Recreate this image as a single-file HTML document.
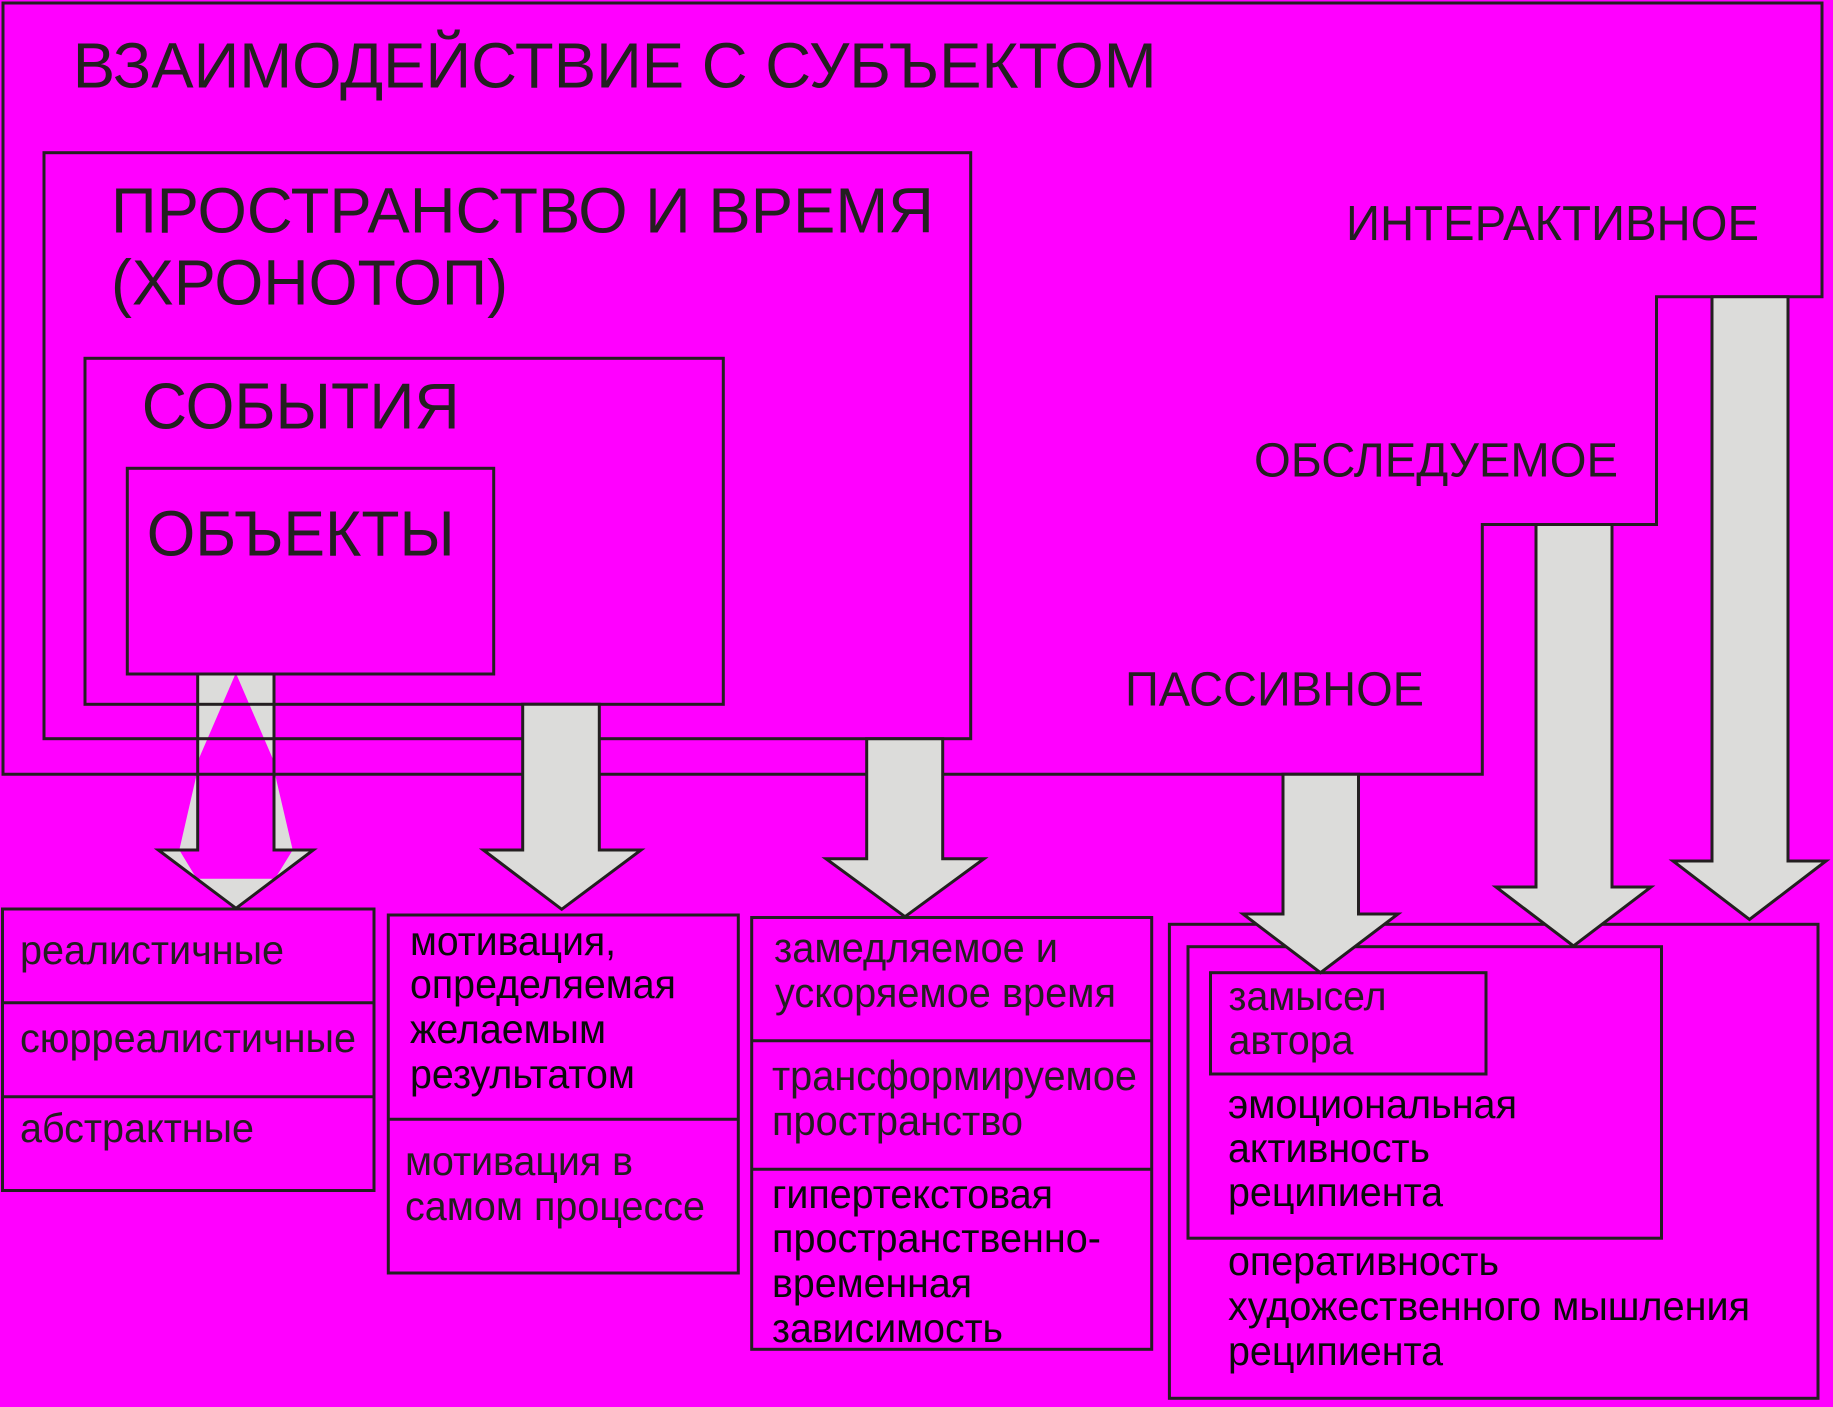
<!DOCTYPE html>
<html lang="ru">
<head>
<meta charset="utf-8">
<style>
  html, body { margin: 0; padding: 0; background: #ff00ff; }
  body { width: 1833px; height: 1407px; overflow: hidden; }
  svg { display: block; }
  text { font-family: "Liberation Sans", "DejaVu Sans", sans-serif; fill: #231f20; }
  .k { fill: #0a0a0a; }
</style>
</head>
<body>
<svg width="1833" height="1407" viewBox="0 0 1833 1407" xmlns="http://www.w3.org/2000/svg">
  <rect x="0" y="0" width="1833" height="1407" fill="#ff00ff"/>

  <!-- Arrow 1 odd gray fill pieces (drawn beneath frame lines) -->
  <g fill="#dcdcda" stroke="none">
    <polygon points="198.3,675 235,675 198.3,760"/>
    <polygon points="236.7,675 273.3,675 273.3,760"/>
    <polygon points="196.7,774.3 196.7,850 179.3,850"/>
    <polygon points="275,774.3 275,850 292.7,850"/>
    <polygon points="158.3,850 179.3,850 196.7,878.7"/>
    <polygon points="292.7,850 313.3,850 275,878.7"/>
    <polygon points="196.7,878.7 275,878.7 236,908.3"/>
  </g>

  <!-- Frames -->
  <g fill="none" stroke="#231f20" stroke-width="3">
    <polygon points="3,3 1822,3 1822,296.7 1656.5,296.7 1656.5,524.5 1482.3,524.5 1482.3,774.3 3,774.3"/>
    <rect x="44" y="152.7" width="926.7" height="586"/>
    <rect x="85" y="358.3" width="638.3" height="346"/>
    <rect x="127.3" y="468.3" width="366.4" height="205.7"/>

    <!-- bottom left box -->
    <rect x="2.5" y="909" width="371.5" height="281.5"/>
    <line x1="2.5" y1="1002.7" x2="374" y2="1002.7"/>
    <line x1="2.5" y1="1096.7" x2="374" y2="1096.7"/>

    <!-- box 2 -->
    <rect x="388.3" y="915" width="350" height="358"/>
    <line x1="388.3" y1="1119.3" x2="738.3" y2="1119.3"/>

    <!-- box 3 -->
    <rect x="751.7" y="917.5" width="400" height="431.8"/>
    <line x1="751.7" y1="1040.7" x2="1151.7" y2="1040.7"/>
    <line x1="751.7" y1="1169.3" x2="1151.7" y2="1169.3"/>

    <!-- right boxes -->
    <rect x="1169.4" y="924.3" width="648.6" height="474"/>
    <rect x="1188" y="946.7" width="473.5" height="291.5"/>
    <rect x="1210.5" y="972.7" width="275.5" height="101.3"/>
  </g>

  <!-- Arrow 1 outlines -->
  <g fill="none" stroke="#231f20" stroke-width="3" stroke-linejoin="miter">
    <polyline points="197.7,674 197.7,850 158.3,850 236,908.3 313.3,850 274,850 274,674"/>
  </g>

  <!-- Solid arrows -->
  <g fill="#dcdcda" stroke="#231f20" stroke-width="3" stroke-linejoin="miter">
    <polygon points="522.7,704.3 522.7,850 483.3,850 561.7,909.3 641,850 599.3,850 599.3,704.3"/>
    <polygon points="866.7,738.7 866.7,858.7 826,858.7 905,916.7 984,858.7 942.7,858.7 942.7,738.7"/>
    <polygon points="1283,774.3 1283,914 1243,914 1320.5,972.7 1398,914 1358.5,914 1358.5,774.3"/>
    <polygon points="1536,524.5 1536,887 1496,887 1573.5,946 1651,887 1612,887 1612,524.5"/>
    <polygon points="1712,296.7 1712,861 1673,861 1749.5,919.5 1826,861 1788,861 1788,296.7"/>
  </g>

  <!-- Upper texts (caps) -->
  <text x="72.7" y="87.7" font-size="64" textLength="1084" lengthAdjust="spacingAndGlyphs">ВЗАИМОДЕЙСТВИЕ С СУБЪЕКТОМ</text>
  <text x="111" y="232.7" font-size="64" textLength="823" lengthAdjust="spacingAndGlyphs">ПРОСТРАНСТВО И ВРЕМЯ</text>
  <text x="111" y="304.3" font-size="64" textLength="397" lengthAdjust="spacingAndGlyphs">(ХРОНОТОП)</text>
  <text x="141.7" y="428.3" font-size="65" textLength="318" lengthAdjust="spacingAndGlyphs">СОБЫТИЯ</text>
  <text x="146.7" y="555.7" font-size="64" textLength="308" lengthAdjust="spacingAndGlyphs">ОБЪЕКТЫ</text>
  <text x="1346" y="240" font-size="49" textLength="413" lengthAdjust="spacingAndGlyphs">ИНТЕРАКТИВНОЕ</text>
  <text x="1254" y="476.7" font-size="48" textLength="364" lengthAdjust="spacingAndGlyphs">ОБСЛЕДУЕМОЕ</text>
  <text x="1125" y="705.7" font-size="48" textLength="299" lengthAdjust="spacingAndGlyphs">ПАССИВНОЕ</text>

  <!-- Box 1 -->
  <text x="20" y="964" font-size="41" textLength="264" lengthAdjust="spacingAndGlyphs">реалистичные</text>
  <text x="20" y="1052" font-size="41" textLength="336" lengthAdjust="spacingAndGlyphs">сюрреалистичные</text>
  <text x="20" y="1142" font-size="41" textLength="234" lengthAdjust="spacingAndGlyphs">абстрактные</text>

  <!-- Box 2 -->
  <text class="k" x="410" y="955" font-size="41" textLength="206" lengthAdjust="spacingAndGlyphs">мотивация,</text>
  <text class="k" x="410" y="998" font-size="41" textLength="266" lengthAdjust="spacingAndGlyphs">определяемая</text>
  <text class="k" x="410" y="1043" font-size="41" textLength="196" lengthAdjust="spacingAndGlyphs">желаемым</text>
  <text class="k" x="410" y="1088" font-size="41" textLength="225" lengthAdjust="spacingAndGlyphs">результатом</text>
  <text x="405" y="1175" font-size="41" textLength="228" lengthAdjust="spacingAndGlyphs">мотивация в</text>
  <text x="405" y="1220" font-size="41" textLength="300" lengthAdjust="spacingAndGlyphs">самом процессе</text>

  <!-- Box 3 -->
  <text x="774" y="962" font-size="42" textLength="284" lengthAdjust="spacingAndGlyphs">замедляемое и</text>
  <text x="775" y="1007" font-size="42" textLength="341" lengthAdjust="spacingAndGlyphs">ускоряемое время</text>
  <text x="772" y="1090" font-size="42" textLength="365" lengthAdjust="spacingAndGlyphs">трансформируемое</text>
  <text x="772" y="1135" font-size="42" textLength="251" lengthAdjust="spacingAndGlyphs">пространство</text>
  <text class="k" x="772" y="1208" font-size="41" textLength="281" lengthAdjust="spacingAndGlyphs">гипертекстовая</text>
  <text class="k" x="772" y="1252" font-size="41" textLength="329" lengthAdjust="spacingAndGlyphs">пространственно-</text>
  <text class="k" x="772" y="1297" font-size="41" textLength="200" lengthAdjust="spacingAndGlyphs">временная</text>
  <text class="k" x="772" y="1342" font-size="41" textLength="231" lengthAdjust="spacingAndGlyphs">зависимость</text>

  <!-- Right boxes -->
  <text x="1228.5" y="1010" font-size="41" textLength="158" lengthAdjust="spacingAndGlyphs">замысел</text>
  <text x="1228.5" y="1054" font-size="41" textLength="125" lengthAdjust="spacingAndGlyphs">автора</text>
  <text class="k" x="1228" y="1118" font-size="41" textLength="289" lengthAdjust="spacingAndGlyphs">эмоциональная</text>
  <text class="k" x="1228" y="1162" font-size="41" textLength="202" lengthAdjust="spacingAndGlyphs">активность</text>
  <text class="k" x="1228" y="1206" font-size="41" textLength="215" lengthAdjust="spacingAndGlyphs">реципиента</text>
  <text class="k" x="1228" y="1275" font-size="41" textLength="271" lengthAdjust="spacingAndGlyphs">оперативность</text>
  <text class="k" x="1228" y="1320" font-size="41" textLength="522" lengthAdjust="spacingAndGlyphs">художественного мышления</text>
  <text class="k" x="1228" y="1365" font-size="41" textLength="215" lengthAdjust="spacingAndGlyphs">реципиента</text>
</svg>
</body>
</html>
